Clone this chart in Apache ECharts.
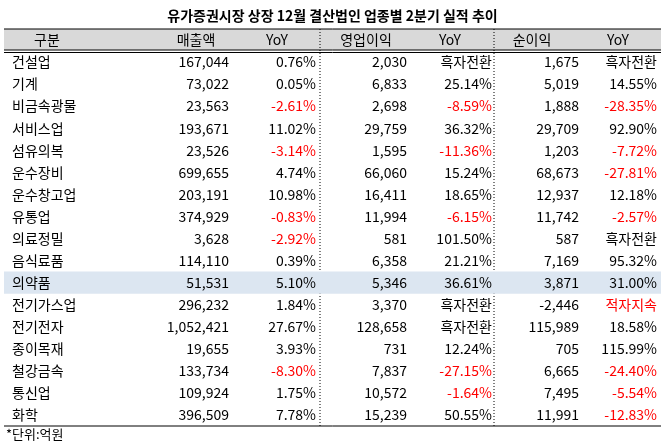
<!DOCTYPE html>
<html><head><meta charset="utf-8">
<script src="https://cdn.jsdelivr.net/npm/echarts@6/dist/echarts.min.js"></script>
<style>html,body{margin:0;background:#fff}#main{width:665px;height:444px}</style>
</head><body><div id="main"></div>
<script>
var categories = ['건설업','기계','비금속광물','서비스업','섬유의복','운수장비','운수창고업','유통업','의료정밀','음식료품','의약품','전기가스업','전기전자','종이목재','철강금속','통신업','화학'];
var sales = ['167,044','73,022','23,563','193,671','23,526','699,655','203,191','374,929','3,628','114,110','51,531','296,232','1,052,421','19,655','133,734','109,924','396,509'];
var salesYoY = ['0.76%','0.05%','-2.61%','11.02%','-3.14%','4.74%','10.98%','-0.83%','-2.92%','0.39%','5.10%','1.84%','27.67%','3.93%','-8.30%','1.75%','7.78%'];
var opProfit = ['2,030','6,833','2,698','29,759','1,595','66,060','16,411','11,994','581','6,358','5,346','3,370','128,658','731','7,837','10,572','15,239'];
var opYoY = ['흑자전환','25.14%','-8.59%','36.32%','-11.36%','15.24%','18.65%','-6.15%','101.50%','21.21%','36.61%','흑자전환','흑자전환','12.24%','-27.15%','-1.64%','50.55%'];
var netProfit = ['1,675','5,019','1,888','29,709','1,203','68,673','12,937','11,742','587','7,169','3,871','-2,446','115,989','705','6,665','7,495','11,991'];
var netYoY = ['흑자전환','14.55%','-28.35%','92.90%','-7.72%','-27.81%','12.18%','-2.57%','흑자전환','95.32%','31.00%','적자지속','18.58%','115.99%','-24.40%','-5.54%','-12.83%'];
var headers = ['구분','매출액','YoY','영업이익','YoY','순이익','YoY'];

var font = '"Noto Sans CJK KR", sans-serif';
var colRight = [8, 225, 312, 403, 488, 575, 653];
var headerX = [47, 196, 277, 366, 450, 532, 618];
var columns = [categories, sales, salesYoY, opProfit, opYoY, netProfit, netYoY];

var cells = [];
columns.forEach(function (col, c) {
  col.forEach(function (v, r) { cells.push([c, r, v]); });
});

var chart = echarts.init(document.getElementById('main'));
chart.setOption({
  animation: false,
  title: { text: '유가증권시장 상장 12월 결산법인 업종별 2분기 실적 추이', left: 'center', top: 4,
    textStyle: { fontFamily: font, fontSize: 14, fontWeight: 'bold', color: '#000' } },
  grid: { left: 4, right: 4, top: 51, bottom: 18 },
  xAxis: { type: 'value', min: 0, max: 657, show: false },
  yAxis: { type: 'category', data: categories, inverse: true, show: false },
  graphic: [
    { type: 'rect', shape: { x: 4, y: 29, width: 657, height: 21 }, style: { fill: '#d9d9d9' } },
    { type: 'line', shape: { x1: 4, y1: 29, x2: 661, y2: 29 }, style: { stroke: '#000', lineWidth: 1 } },
    { type: 'line', shape: { x1: 4, y1: 50, x2: 661, y2: 50 }, style: { stroke: '#000', lineWidth: 1 } },
    { type: 'line', shape: { x1: 4, y1: 52.5, x2: 661, y2: 52.5 }, style: { stroke: '#000', lineWidth: 1 } },
    { type: 'line', shape: { x1: 4, y1: 426, x2: 661, y2: 426 }, style: { stroke: '#000', lineWidth: 1 } },
    { type: 'line', shape: { x1: 320, y1: 29, x2: 320, y2: 426 }, style: { stroke: '#000', lineWidth: 1, lineDash: [1, 2] } },
    { type: 'line', shape: { x1: 494, y1: 29, x2: 494, y2: 426 }, style: { stroke: '#000', lineWidth: 1, lineDash: [1, 2] } },
    { type: 'text', left: 6, top: 428, style: { text: '*단위:억원', font: '13px ' + font, fill: '#000' } }
  ].concat(headers.map(function (h, i) {
    return { type: 'text', x: headerX[i], y: 40, style: { text: h, font: '14px ' + font, fill: '#000', align: 'center', verticalAlign: 'middle' } };
  })),
  series: [{
    type: 'custom',
    data: cells,
    renderItem: function (params, api) {
      var c = api.value(0), r = api.value(1);
      var text = cells[params.dataIndex][2];
      var y = api.coord([0, r])[1];
      var children = [];
      if (c === 0 && categories[r] === '의약품') {
        var band = api.size([0, 1])[1];
        children.push({ type: 'rect', shape: { x: 4, y: y - band / 2, width: 657, height: band },
          style: { fill: '#dce6f1' }, z2: -1 });
      }
      var red = text.charAt(0) === '-' && c % 2 === 0 && c > 0 || text === '적자지속';
      children.push({ type: 'text', x: api.coord([colRight[c], r])[0], y: y,
        style: { text: text, font: '14px ' + font, fill: red ? '#ff0000' : '#000',
          align: c === 0 ? 'left' : 'right', verticalAlign: 'middle' } });
      return { type: 'group', children: children };
    }
  }]
});
</script></body></html>
